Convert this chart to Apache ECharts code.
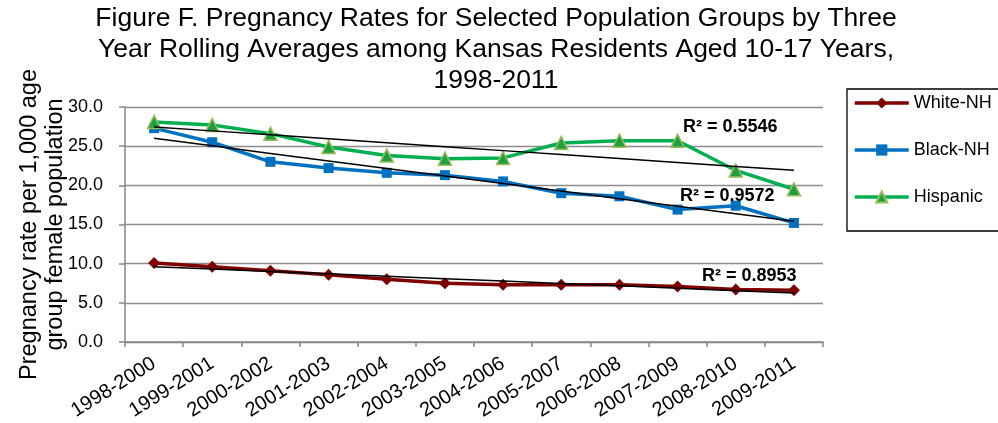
<!DOCTYPE html>
<html>
<head>
<meta charset="utf-8">
<script src="https://cdn.jsdelivr.net/npm/echarts@6/dist/echarts.min.js"></script>
<style>
html,body{margin:0;padding:0;background:#fff;}
#chart{width:998px;height:423px;}
</style>
</head>
<body>
<div id="chart"></div>
<script>
var categories = ['1998-2000','1999-2001','2000-2002','2001-2003','2002-2004','2003-2005','2004-2006','2005-2007','2006-2008','2007-2009','2008-2010','2009-2011'];
var whiteNH = [10.1, 9.6, 9.1, 8.6, 8.0, 7.5, 7.3, 7.3, 7.3, 7.1, 6.7, 6.6];
var blackNH = [27.3, 25.5, 23.0, 22.2, 21.6, 21.3, 20.5, 19.0, 18.6, 16.9, 17.4, 15.2];
var hispanic = [28.1, 27.7, 26.6, 24.9, 23.8, 23.4, 23.5, 25.4, 25.7, 25.7, 21.9, 19.5];
var seriesNames = ['White-NH', 'Black-NH', 'Hispanic'];
var r2Labels = ['R\u00b2 = 0.8953', 'R\u00b2 = 0.9572', 'R\u00b2 = 0.5546'];
var yTicks = [0, 5, 10, 15, 20, 25, 30];
var titleText = 'Figure F. Pregnancy Rates for Selected Population Groups by Three\nYear Rolling Averages among Kansas Residents Aged 10-17 Years,\n1998-2011';
var yAxisTitle = 'Pregnancy rate per 1,000 age\ngroup female population';

function linearTrend(vals) {
  var n = vals.length, sx = 0, sy = 0, sxx = 0, sxy = 0;
  for (var i = 0; i < n; i++) { sx += i; sy += vals[i]; sxx += i * i; sxy += i * vals[i]; }
  var slope = (n * sxy - sx * sy) / (n * sxx - sx * sx);
  var icpt = (sy - slope * sx) / n;
  var out = [];
  for (var j = 0; j < n; j++) out.push(+(icpt + slope * j).toFixed(3));
  return out;
}

var FONT = 'Liberation Sans, Arial, sans-serif';
var chart = echarts.init(document.getElementById('chart'), null, {renderer: 'canvas'});

function trendSeries(vals) {
  return {
    type: 'line', data: linearTrend(vals), symbol: 'none', silent: true,
    lineStyle: {color: '#000', width: 1.5}, z: 5, legendHoverLink: false
  };
}

var option = {
  backgroundColor: '#fff',
  animation: false,
  legend: {
    data: seriesNames,
    orient: 'vertical',
    left: 847, top: 89,
    padding: [5, 40, 25, 6],
    itemWidth: 54, itemHeight: 14, itemGap: 29,
    borderColor: '#000', borderWidth: 1.3,
    lineStyle: {width: 3.5},
    textStyle: {fontFamily: FONT, fontSize: 18, color: '#000'}
  },
  grid: {left: 125, right: 175, top: 107, bottom: 81, containLabel: false, outerBoundsMode: 'none'},
  xAxis: {
    type: 'category', data: categories, boundaryGap: true,
    axisLine: {lineStyle: {color: '#868686', width: 1.5}},
    axisTick: {show: true, length: 5, lineStyle: {color: '#868686', width: 1.5}},
    axisLabel: {rotate: 32, margin: 20, fontFamily: FONT, fontSize: 20, color: '#000', interval: 0}
  },
  yAxis: {
    type: 'value', min: yTicks[0], max: yTicks[yTicks.length - 1], interval: 5,
    name: yAxisTitle,
    nameLocation: 'middle', nameRotate: 90, nameGap: 56, nameMoveOverlap: false,
    nameTextStyle: {fontFamily: FONT, fontSize: 23.5, lineHeight: 26, color: '#000'},
    axisLine: {show: true, lineStyle: {color: '#868686', width: 1.5}},
    axisTick: {show: true, length: 6, lineStyle: {color: '#868686', width: 1.5}},
    splitLine: {lineStyle: {color: '#8c8c8c', width: 1.3}},
    axisLabel: {margin: 22, fontFamily: FONT, fontSize: 18, color: '#000', formatter: function (v) { return v.toFixed(1); }}
  },
  series: [
    {
      name: seriesNames[0], type: 'line', data: whiteNH,
      symbol: 'diamond', symbolSize: 12,
      lineStyle: {color: '#7F0000', width: 3.5},
      itemStyle: {color: '#7F0000'}, z: 3
    },
    {
      name: seriesNames[1], type: 'line', data: blackNH,
      symbol: 'rect', symbolSize: 10,
      lineStyle: {color: '#0070C0', width: 3.5},
      itemStyle: {color: '#0070C0'}, z: 3
    },
    {
      name: seriesNames[2], type: 'line', data: hispanic,
      symbol: 'triangle', symbolSize: 13,
      lineStyle: {color: '#00B050', width: 3.5},
      itemStyle: {color: '#1FA040', borderColor: '#9BBB59', borderWidth: 1.5}, z: 3
    },
    trendSeries(whiteNH),
    trendSeries(blackNH),
    trendSeries(hispanic)
  ],
  graphic: [
    {type: 'text', x: 496, y: 3, style: {text: titleText, font: '26.5px ' + FONT, lineHeight: 31, fill: '#000', textAlign: 'center', textVerticalAlign: 'top'}, z: 10},
    {type: 'text', left: 702, top: 267, style: {text: r2Labels[0], font: 'bold 18px ' + FONT, fill: '#000'}, z: 10},
    {type: 'text', left: 680, top: 187, style: {text: r2Labels[1], font: 'bold 18px ' + FONT, fill: '#000'}, z: 10},
    {type: 'text', left: 683, top: 118, style: {text: r2Labels[2], font: 'bold 18px ' + FONT, fill: '#000'}, z: 10}
  ]
};
chart.setOption(option);
</script>
</body>
</html>
